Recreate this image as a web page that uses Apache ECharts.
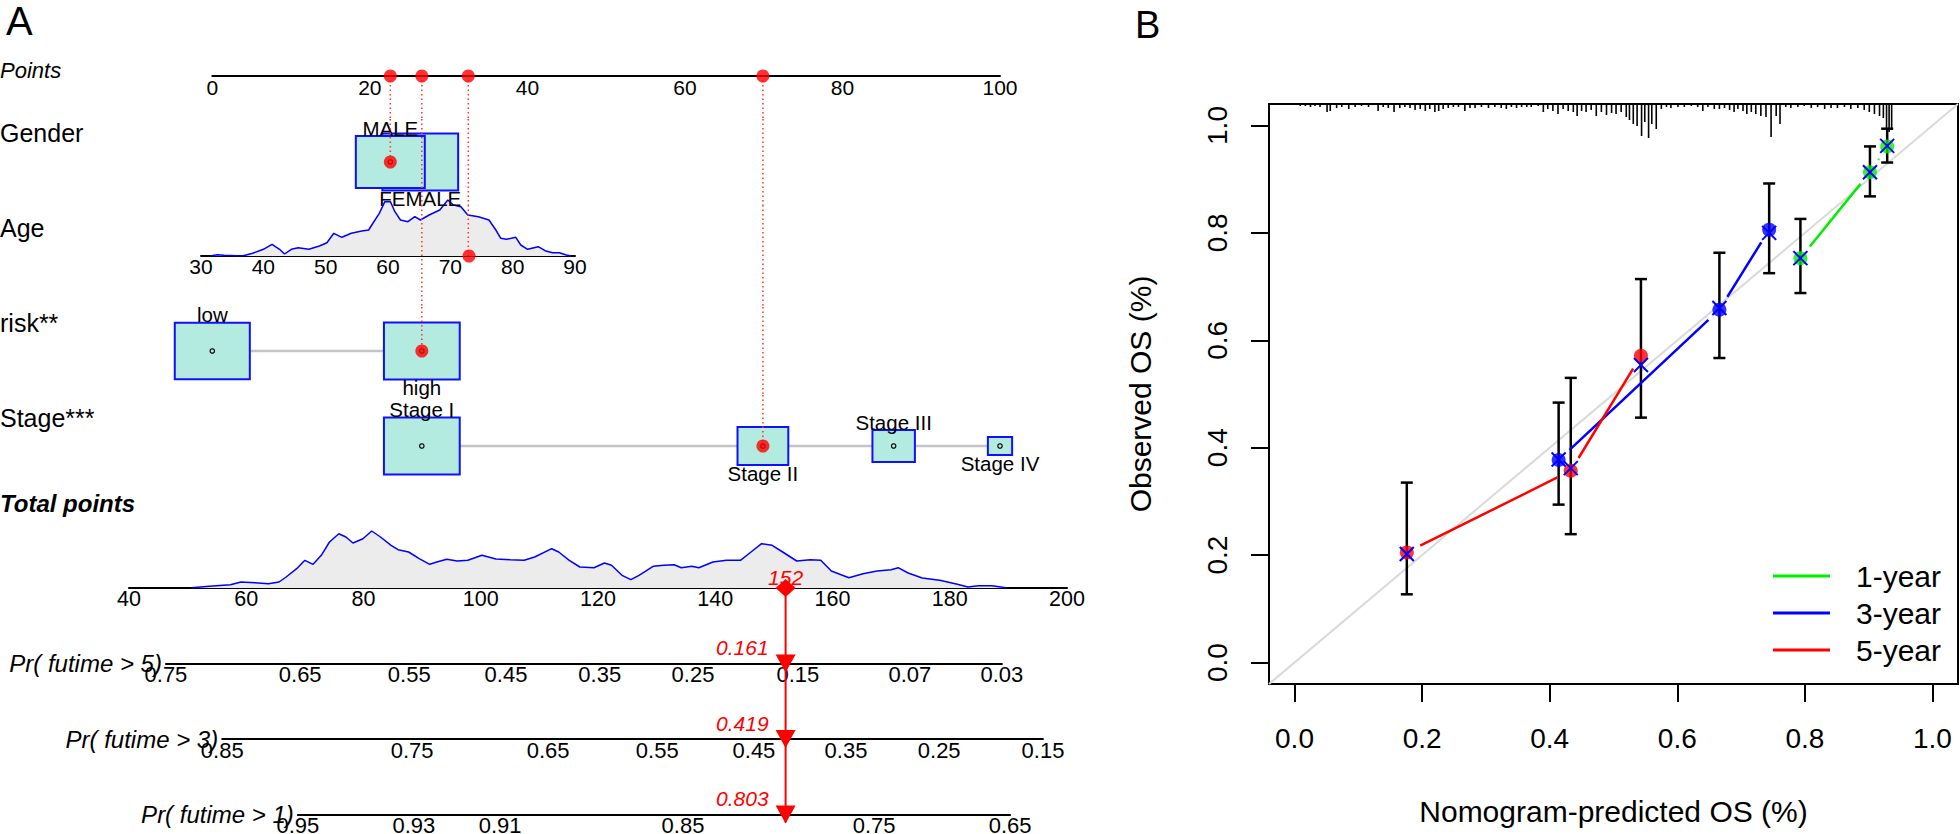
<!DOCTYPE html>
<html><head><meta charset="utf-8">
<script src="https://cdn.jsdelivr.net/npm/echarts@6/dist/echarts.min.js"></script>
<style>html,body{margin:0;padding:0;background:#fff}#c{width:1960px;height:834px}</style>
</head><body><div id="c"></div>
<script>
// ================= Panel A : nomogram data =================
const pointsTicks = [0, 20, 40, 60, 80, 100];
const genderLevels = ['MALE', 'FEMALE'];
const genderPoints = [22.6, 26.4];
const genderBox = [0.91, 1.0];
const riskLevels = ['low', 'high'];
const riskPoints = [0, 26.6];
const riskBox = [0.99, 1.0];
const stageLevels = ['Stage I', 'Stage II', 'Stage III', 'Stage IV'];
const stagePoints = [26.6, 69.9, 86.5, 100];
const stageBox = [1.0, 0.67, 0.56, 0.32];
const ageTicks = [30, 40, 50, 60, 70, 80, 90];
const ageGrid = [31.5, 32.6, 33.7, 36.6, 38.3, 40.0, 41.4, 42.6, 43.4, 44.5, 45.6, 47.3, 49.0, 50.2, 51.3, 52.6, 54.1, 55.8, 56.9, 57.5, 58.6, 59.5, 60.4, 61.1, 62.0, 63.2, 64.3, 65.2, 66.6, 68.3, 69.6, 70.5, 71.7, 72.8, 74.5, 76.2, 77.3, 78.1, 79.0, 80.5, 81.3, 82.4, 84.1, 85.2, 86.4, 87.5, 88.6, 89.4];
const ageDensity = [0, 1.3, 0.7, 0, 2.7, 6.7, 11.7, 6.7, 2, 6.7, 8.3, 6.7, 10, 13.3, 22.7, 18.7, 22.7, 25, 26, 32, 42.7, 54.3, 54.3, 44.3, 36, 34.3, 39.3, 36, 41, 46, 56, 51, 49.3, 41, 39.3, 36, 26, 17.7, 16.7, 18.7, 11, 6.7, 9.3, 5.3, 3.3, 3.3, 1, 0];
const patientGender = 'MALE';
const patientAge = 73;
const patientAgePoints = 32.5;
const patientRisk = 'high';
const patientStage = 'Stage II';
const totalTicks = [40, 60, 80, 100, 120, 140, 160, 180, 200];
const totalGrid = [50.7, 53.7, 57.3, 59.1, 61.5, 63.8, 65.6, 66.8, 68.6, 70.0, 71.4, 72.8, 74.2, 75.8, 77.0, 78.2, 79.9, 81.4, 82.9, 84.7, 85.9, 87.7, 89.5, 91.3, 92.5, 94.2, 96.0, 97.8, 100.2, 102.6, 105.0, 107.4, 109.2, 112.1, 113.3, 115.1, 116.9, 119.3, 121.1, 122.3, 124.1, 125.6, 127.0, 129.4, 131.2, 133.0, 134.2, 136.0, 137.2, 139.6, 141.9, 144.3, 146.1, 147.9, 149.7, 151.5, 153.9, 156.2, 158.0, 159.8, 162.8, 165.2, 167.6, 170.0, 171.2, 172.9, 175.3, 178.3, 181.3, 183.1, 184.9, 187.2, 189.6];
const totalDensity = [0.3, 1.7, 3.3, 6, 5.3, 4.3, 6, 11, 19.3, 27.7, 23.7, 32.7, 46, 54.3, 51, 45, 49.3, 57, 51, 42.7, 38.3, 36, 29.3, 23.7, 26, 28.7, 27, 27.7, 32.7, 29, 28.3, 27.7, 31, 39.3, 36, 27.7, 21, 20.3, 25, 22.7, 12.7, 8.3, 12.7, 21.7, 22.7, 23.3, 20.3, 21.7, 20.3, 26, 27.7, 27.7, 36, 44.3, 42.7, 36, 27, 28.3, 27.7, 17, 10.3, 14.3, 17, 18.3, 20.3, 15, 10, 7.7, 3.7, 1, 2.3, 2.3, 0.3];
const patientTotal = 152;
const pr5Labels = ['0.75', '0.65', '0.55', '0.45', '0.35', '0.25', '0.15', '0.07', '0.03'];
const pr5Points = [46.3, 69.2, 87.8, 104.3, 120.3, 136.2, 154.1, 173.2, 188.9];
const pr3Labels = ['0.85', '0.75', '0.65', '0.55', '0.45', '0.35', '0.25', '0.15'];
const pr3Points = [55.9, 88.3, 111.5, 130.1, 146.6, 162.3, 178.2, 195.9];
const pr1Labels = ['0.95', '0.93', '0.91', '0.85', '0.75', '0.65'];
const pr1Points = [68.8, 88.6, 103.3, 134.5, 167.1, 190.3];
const prNames = ['Pr( futime > 5)', 'Pr( futime > 3)', 'Pr( futime > 1)'];
const prResult = ['0.161', '0.419', '0.803'];

// ================= Panel B : calibration data =================
const calTicks = [0, 0.2, 0.4, 0.6, 0.8, 1.0];
const y1Pred = [0.793, 0.902, 0.929];
const y1Obs = [0.753, 0.913, 0.961];
const y1Lo = [0.688, 0.868, 0.931];
const y1Hi = [0.826, 0.961, 0.994];
const y1Corr = [0.753, 0.913, 0.962];
const y3Pred = [0.414, 0.666, 0.744];
const y3Obs = [0.377, 0.657, 0.806];
const y3Lo = [0.294, 0.567, 0.725];
const y3Hi = [0.484, 0.763, 0.892];
const y3Corr = [0.378, 0.660, 0.800];
const y5Pred = [0.176, 0.433, 0.543];
const y5Obs = [0.205, 0.357, 0.571];
const y5Lo = [0.127, 0.239, 0.456];
const y5Hi = [0.335, 0.530, 0.714];
const y5Corr = [0.202, 0.362, 0.554];
const rugPred = [0.009, 0.017, 0.025, 0.032, 0.040, 0.051, 0.056, 0.066, 0.074, 0.085, 0.095, 0.105, 0.116, 0.131, 0.139, 0.147, 0.156, 0.165, 0.173, 0.181, 0.189, 0.197, 0.205, 0.212, 0.220, 0.226, 0.233, 0.241, 0.249, 0.257, 0.267, 0.275, 0.283, 0.293, 0.304, 0.314,
  0.324, 0.332, 0.340, 0.348, 0.356, 0.364, 0.371, 0.382, 0.390, 0.397, 0.405, 0.413, 0.421, 0.429, 0.437, 0.443, 0.450, 0.457, 0.465, 0.473, 0.481, 0.489, 0.497, 0.504, 0.512, 0.520, 0.525, 0.531, 0.537, 0.544, 0.549, 0.555, 0.560, 0.567, 0.575, 0.583, 0.590, 0.601, 0.611, 0.622, 0.632, 0.640, 0.648, 0.658, 0.666, 0.674,
  0.682, 0.689, 0.695, 0.703, 0.709, 0.716, 0.723, 0.731, 0.739, 0.747, 0.755, 0.761, 0.770, 0.778, 0.789, 0.799, 0.810, 0.820, 0.831, 0.841, 0.851, 0.862, 0.872, 0.883, 0.893, 0.901, 0.909, 0.917, 0.923, 0.928, 0.932, 0.936];
const rugCount = [2, 2, 3, 2, 3, 8, 7, 4, 3, 5, 3, 2, 3, 7, 3, 4, 8, 4, 3, 4, 6, 5, 7, 5, 8, 7, 5, 4, 3, 3, 7, 4, 4, 3, 4, 3,
  4, 5, 3, 4, 3, 3, 3, 2, 8, 5, 7, 10, 5, 7, 8, 12, 7, 8, 6, 12, 8, 11, 9, 10, 8, 13, 16, 20, 22, 32, 18, 34, 20, 25, 5, 3, 4, 3, 3, 2, 3, 7, 3, 5, 5, 4,
  6, 8, 5, 7, 10, 8, 10, 12, 13, 33, 12, 20, 3, 4, 3, 2, 4, 3, 5, 4, 4, 3, 5, 4, 6, 8, 10, 12, 14, 24, 28, 26];

// ================= layout / style =================
const FONT = '"Liberation Sans", Arial, Helvetica, sans-serif';
const RED = '#ff0000', BLUE = '#1010ff';
const PL = 212.3, PW = 787.7;                 // points scale 0..100
// band grids: [top, height, yMin, yMax]; band 0 holds the points axis at its bottom edge
const bands = [[33, 43, 0, 1], [119, 86, -1, 1], [205, 102, -1, 1], [307, 88, -1, 1], [395, 102, -1, 1]];
const TL = 129, TW = 938, TMIN = 40, TMAX = 200; // total points scale
const ROW0 = 588, ROWGAP = 75.5;

const grid = [], xAxis = [], yAxis = [], series = [], graphic = [];
function addGrid(g) { g.outerBoundsMode = 'none'; g.containLabel = false; grid.push(g); return grid.length - 1; }
const tickLabel = (size) => ({ color: '#000', fontSize: size, fontFamily: FONT, hideOverlap: false });
const hiddenX = (gi, min, max) => ({ gridIndex: gi, type: 'value', min, max, show: false });
const hiddenY = (gi, min, max, inverse) => ({ gridIndex: gi, type: 'value', min, max, show: false, inverse: !!inverse });

bands.forEach((b, i) => {
  const gi = addGrid({ left: PL, width: PW, top: b[0], height: b[1] });
  if (i === 0) {
    xAxis.push({ gridIndex: gi, type: 'value', min: pointsTicks[0], max: pointsTicks[pointsTicks.length - 1], interval: 20,
      axisLine: { onZero: false, lineStyle: { color: '#000', width: 2 } }, axisTick: { show: false },
      splitLine: { show: false }, axisLabel: Object.assign(tickLabel(21), { margin: 1 }) });
  } else xAxis.push(hiddenX(gi, 0, 100));
  yAxis.push(hiddenY(gi, b[2], b[3]));
});
const AGE_G = addGrid({ left: 201, width: 374, top: 196, height: 60 });
xAxis.push({ gridIndex: AGE_G, type: 'value', min: ageTicks[0], max: ageTicks[ageTicks.length - 1], interval: 10,
  axisLine: { onZero: false, lineStyle: { color: '#000', width: 2 } }, axisTick: { show: false }, splitLine: { show: false },
  axisLabel: Object.assign(tickLabel(21), { margin: 0 }) });
yAxis.push(hiddenY(AGE_G, 0, 60));
const TOT_G = addGrid({ left: TL, width: TW, top: ROW0 - 60, height: 60 });
xAxis.push({ gridIndex: TOT_G, type: 'value', min: TMIN, max: TMAX, interval: 20,
  axisLine: { onZero: false, lineStyle: { color: '#000', width: 2 } }, axisTick: { show: false }, splitLine: { show: false },
  axisLabel: Object.assign(tickLabel(21.5), { margin: 0 }) });
yAxis.push(hiddenY(TOT_G, 0, 60));
const ARR_G = addGrid({ left: TL, width: TW, top: ROW0, height: 3 * ROWGAP });
xAxis.push(hiddenX(ARR_G, TMIN, TMAX));
yAxis.push(hiddenY(ARR_G, 0, 3, true));
const prSets = [[pr5Points, pr5Labels], [pr3Points, pr3Labels], [pr1Points, pr1Labels]];
const totPx = v => TL + (v - TMIN) / (TMAX - TMIN) * TW;
const PR_G = [];
prSets.forEach((s, i) => {
  const pos = s[0], lab = s[1];
  const x0 = totPx(pos[0]), x1 = totPx(pos[pos.length - 1]);
  const cy = ROW0 + (i + 1) * ROWGAP;
  const gi = addGrid({ left: x0, width: x1 - x0, top: cy - 20, height: 20 });
  PR_G.push(gi);
  xAxis.push({ gridIndex: gi, type: 'value', min: pos[0], max: pos[pos.length - 1],
    axisLine: { onZero: false, lineStyle: { color: '#000', width: 2 } }, axisTick: { show: false }, splitLine: { show: false },
    axisLabel: Object.assign(tickLabel(22), { margin: 0, customValues: pos, showMinLabel: true, showMaxLabel: true,
      formatter: v => { let k = 0, d = 1e9; pos.forEach((p, j) => { if (Math.abs(p - v) < d) { d = Math.abs(p - v); k = j; } }); return lab[k]; } }) });
  yAxis.push(hiddenY(gi, 0, 1));
  graphic.push({ type: 'text', x: x0 - 4, y: cy, silent: true,
    style: { text: prNames[i], fill: '#000', fontSize: 24, fontStyle: 'italic', fontFamily: FONT, textAlign: 'right', textVerticalAlign: 'middle', align: 'right', verticalAlign: 'middle' } });
});
const CAL_G = addGrid({ left: 1269, top: 104, width: 689, height: 580, show: true, borderColor: '#000', borderWidth: 2, backgroundColor: 'transparent' });
const CMIN = -0.04, CMAX = 1.04;
const calAxis = (isX) => ({ gridIndex: CAL_G, type: 'value', min: CMIN, max: CMAX,
  axisLine: { show: false, onZero: false }, splitLine: { show: false },
  axisTick: { show: true, customValues: calTicks, length: 18, lineStyle: { color: '#000', width: 2 } },
  axisLabel: Object.assign(tickLabel(28), { customValues: calTicks, formatter: v => v.toFixed(1), margin: isX ? 40 : 38, rotate: isX ? 0 : 90 }),
  name: isX ? 'Nomogram-predicted OS (%)' : 'Observed OS (%)', nameLocation: 'middle', nameGap: isX ? 112 : 114,
  nameTextStyle: { color: '#000', fontSize: 30, fontFamily: FONT } });
xAxis.push(calAxis(true));
yAxis.push(calAxis(false));

// ---------- Panel A series ----------
function boxSeries(gi, levels, pts, sizes) {
  const data = levels.map((l, i) => [pts[i], 0, sizes[i], i]).reverse();
  series.push({ type: 'line', xAxisIndex: gi, yAxisIndex: gi, z: 2, symbol: 'none', silent: true,
    data: [[Math.min(...pts), 0], [Math.max(...pts), 0]], lineStyle: { color: '#c4c4c4', width: 2.5 } });
  series.push({ type: 'custom', xAxisIndex: gi, yAxisIndex: gi, z: 3, silent: true, data,
    renderItem(params, api) {
      const c = api.coord([api.value(0), 0]);
      const h = api.value(2) * 57, w = h * 1.33, idx = api.value(3);
      const above = idx % 2 === 0;
      return { type: 'group', children: [
        { type: 'rect', shape: { x: c[0] - w / 2, y: c[1] - h / 2, width: w, height: h }, style: { fill: '#b3ebe0', stroke: BLUE, lineWidth: 2 } },
        { type: 'circle', shape: { cx: c[0], cy: c[1], r: 2.2 }, style: { fill: 'none', stroke: '#000', lineWidth: 1.2 } },
        { type: 'text', x: c[0], y: above ? c[1] - h / 2 - 8 : c[1] + h / 2 + 8,
          style: { text: levels[idx], fill: '#000', fontSize: 20.5, fontFamily: FONT, textAlign: 'center', textVerticalAlign: 'middle', align: 'center', verticalAlign: 'middle' } }
      ] };
    } });
}
boxSeries(1, genderLevels, genderPoints, genderBox);
boxSeries(3, riskLevels, riskPoints, riskBox);
boxSeries(4, stageLevels, stagePoints, stageBox);

const zip = (a, b) => a.map((v, i) => [v, b[i]]);
[[AGE_G, ageGrid, ageDensity], [TOT_G, totalGrid, totalDensity]].forEach(d => {
  series.push({ type: 'line', xAxisIndex: d[0], yAxisIndex: d[0], z: 2, symbol: 'none', silent: true,
    data: zip(d[1], d[2]), lineStyle: { color: '#0000ff', width: 1.5 }, areaStyle: { color: '#ececec', opacity: 1 } });
});

const selected = [
  { row: 1, pts: genderPoints[genderLevels.indexOf(patientGender)] },
  { row: 2, pts: patientAgePoints },
  { row: 3, pts: riskPoints[riskLevels.indexOf(patientRisk)] },
  { row: 4, pts: stagePoints[stageLevels.indexOf(patientStage)] }
];
bands.forEach((b, bi) => {
  const segs = [];
  selected.forEach(s => {
    if (bi === 0) segs.push([s.pts, 0, -1]);
    else if (bi < s.row) segs.push([s.pts, 1, -1]);
    else if (bi === s.row) segs.push([s.pts, 1, 0]);
  });
  series.push({ type: 'custom', xAxisIndex: bi, yAxisIndex: bi, z: 5, silent: true, data: segs,
    renderItem(params, api) {
      const a = api.coord([api.value(0), api.value(1)]), c = api.coord([api.value(0), api.value(2)]);
      return { type: 'line', shape: { x1: a[0], y1: a[1], x2: c[0], y2: c[1] }, style: { stroke: '#ff3030', lineWidth: 1.5, lineDash: [1.5, 3] } };
    } });
});
const dot = (gi, data) => series.push({ type: 'scatter', xAxisIndex: gi, yAxisIndex: gi, z: 8, silent: true, symbol: 'circle', symbolSize: 13, itemStyle: { color: RED }, data });
dot(0, selected.map(s => [s.pts, 0]));
dot(1, [[selected[0].pts, 0]]);
dot(AGE_G, [[patientAge, 0]]);
dot(3, [[selected[2].pts, 0]]);
dot(4, [[selected[3].pts, 0]]);

const redText = (t, x, y, align) => ({ type: 'text', x, y, style: { text: t, fill: RED, fontSize: 21, fontStyle: 'italic', fontFamily: FONT, textAlign: align, textVerticalAlign: 'middle', align, verticalAlign: 'middle' } });
series.push({ type: 'custom', xAxisIndex: ARR_G, yAxisIndex: ARR_G, z: 6, silent: true, data: [[patientTotal, 0]],
  renderItem(params, api) {
    const t = api.coord([api.value(0), 0]), b = api.coord([api.value(0), 3]);
    return { type: 'group', children: [
      { type: 'line', shape: { x1: t[0], y1: t[1], x2: b[0], y2: b[1] + 8 }, style: { stroke: RED, lineWidth: 2 } },
      { type: 'polygon', shape: { points: [[t[0], t[1] - 9], [t[0] + 10, t[1]], [t[0], t[1] + 9], [t[0] - 10, t[1]]] }, style: { fill: RED } },
      redText(String(api.value(0)), t[0], t[1] - 11, 'center')
    ] };
  } });
PR_G.forEach((gi, i) => {
  series.push({ type: 'custom', xAxisIndex: gi, yAxisIndex: gi, z: 6, silent: true, data: [[patientTotal, 0]],
    renderItem(params, api) {
      const c = api.coord([api.value(0), 0]);
      return { type: 'group', children: [
        { type: 'polygon', shape: { points: [[c[0] - 10, c[1] - 9], [c[0] + 10, c[1] - 9], [c[0], c[1] + 9]] }, style: { fill: RED } },
        redText(prResult[i], c[0] - 17, c[1] - 16, 'right')
      ] };
    } });
});

// ---------- Panel B series ----------
series.push({ type: 'line', xAxisIndex: CAL_G, yAxisIndex: CAL_G, z: 1, symbol: 'none', silent: true,
  data: [[CMIN, CMIN], [CMAX, CMAX]], lineStyle: { color: '#dadada', width: 2 } });
series.push({ type: 'custom', xAxisIndex: CAL_G, yAxisIndex: CAL_G, z: 2, silent: true, data: zip(rugPred, rugCount),
  renderItem(params, api) {
    const p = api.coord([api.value(0), CMAX]);
    return { type: 'line', shape: { x1: p[0], y1: p[1], x2: p[0], y2: p[1] + api.value(1) }, style: { stroke: '#000', lineWidth: 1.6 } };
  } });
const years = [
  { name: '1-year', color: '#00ee00', pred: y1Pred, obs: y1Obs, lo: y1Lo, hi: y1Hi, corr: y1Corr },
  { name: '3-year', color: '#0000ff', pred: y3Pred, obs: y3Obs, lo: y3Lo, hi: y3Hi, corr: y3Corr },
  { name: '5-year', color: '#ff0000', pred: y5Pred, obs: y5Obs, lo: y5Lo, hi: y5Hi, corr: y5Corr }
];
years.forEach(yr => {
  series.push({ type: 'custom', xAxisIndex: CAL_G, yAxisIndex: CAL_G, z: 3, silent: true,
    data: yr.pred.map((p, i) => [p, yr.lo[i], yr.hi[i]]),
    renderItem(params, api) {
      const lo = api.coord([api.value(0), api.value(1)]), hi = api.coord([api.value(0), api.value(2)]);
      const s = { stroke: '#000', lineWidth: 2.5 };
      return { type: 'group', children: [
        { type: 'line', shape: { x1: lo[0], y1: lo[1], x2: hi[0], y2: hi[1] }, style: s },
        { type: 'line', shape: { x1: lo[0] - 6, y1: lo[1], x2: lo[0] + 6, y2: lo[1] }, style: s },
        { type: 'line', shape: { x1: hi[0] - 6, y1: hi[1], x2: hi[0] + 6, y2: hi[1] }, style: s }
      ] };
    } });
  const segs = [];
  for (let i = 0; i < yr.pred.length - 1; i++) segs.push([yr.pred[i], yr.obs[i], yr.pred[i + 1], yr.obs[i + 1]]);
  series.push({ type: 'custom', name: yr.name, xAxisIndex: CAL_G, yAxisIndex: CAL_G, z: 4, silent: true,
    itemStyle: { color: yr.color }, data: segs,
    renderItem(params, api) {
      const a = api.coord([api.value(0), api.value(1)]), b = api.coord([api.value(2), api.value(3)]);
      const dx = b[0] - a[0], dy = b[1] - a[1], d = Math.hypot(dx, dy), g = 15;
      if (d <= 2 * g) return { type: 'group', children: [] };
      const ux = dx / d, uy = dy / d;
      return { type: 'line', shape: { x1: a[0] + ux * g, y1: a[1] + uy * g, x2: b[0] - ux * g, y2: b[1] - uy * g }, style: { stroke: yr.color, lineWidth: 2.5 } };
    } });
  series.push({ type: 'scatter', xAxisIndex: CAL_G, yAxisIndex: CAL_G, z: 5, silent: true, symbol: 'circle', symbolSize: 14,
    itemStyle: { color: yr.color }, data: zip(yr.pred, yr.obs) });
  series.push({ type: 'custom', xAxisIndex: CAL_G, yAxisIndex: CAL_G, z: 6, silent: true, data: zip(yr.pred, yr.corr),
    renderItem(params, api) {
      const c = api.coord([api.value(0), api.value(1)]), r = 7, s = { stroke: '#0000ff', lineWidth: 2 };
      return { type: 'group', children: [
        { type: 'line', shape: { x1: c[0] - r, y1: c[1] - r, x2: c[0] + r, y2: c[1] + r }, style: s },
        { type: 'line', shape: { x1: c[0] - r, y1: c[1] + r, x2: c[0] + r, y2: c[1] - r }, style: s }
      ] };
    } });
});

// ---------- texts ----------
const gtext = (text, x, y, size, extra) => ({ type: 'text', x, y, silent: true,
  style: Object.assign({ text, fill: '#000', fontSize: size, fontFamily: FONT, textAlign: 'left', textVerticalAlign: 'middle', align: 'left', verticalAlign: 'middle' }, extra || {}) });
graphic.push(gtext('A', 6, 21, 40));
graphic.push(gtext('B', 1135, 25, 38));
graphic.push(gtext('Points', 0, 70, 22, { fontStyle: 'italic' }));
graphic.push(gtext('Gender', 0, 133, 25));
graphic.push(gtext('Age', 0, 228, 25));
graphic.push(gtext('risk**', 0, 323, 25));
graphic.push(gtext('Stage***', 0, 418, 25));
graphic.push(gtext('Total points', 0, 503, 24, { fontStyle: 'italic', fontWeight: 'bold' }));

const chart = echarts.init(document.getElementById('c'), null, { renderer: 'svg', width: 1960, height: 834 });
chart.setOption({
  animation: false,
  backgroundColor: '#ffffff',
  grid, xAxis, yAxis, series, graphic,
  legend: { orient: 'vertical', left: 1768, top: 556, itemWidth: 57, itemHeight: 3, itemGap: 7, icon: 'rect', selectedMode: false,
    textStyle: { color: '#000', fontSize: 30, fontFamily: FONT, padding: [0, 0, 0, 21] },
    data: years.map(y => ({ name: y.name, itemStyle: { color: y.color } })) }
});
</script></body></html>
